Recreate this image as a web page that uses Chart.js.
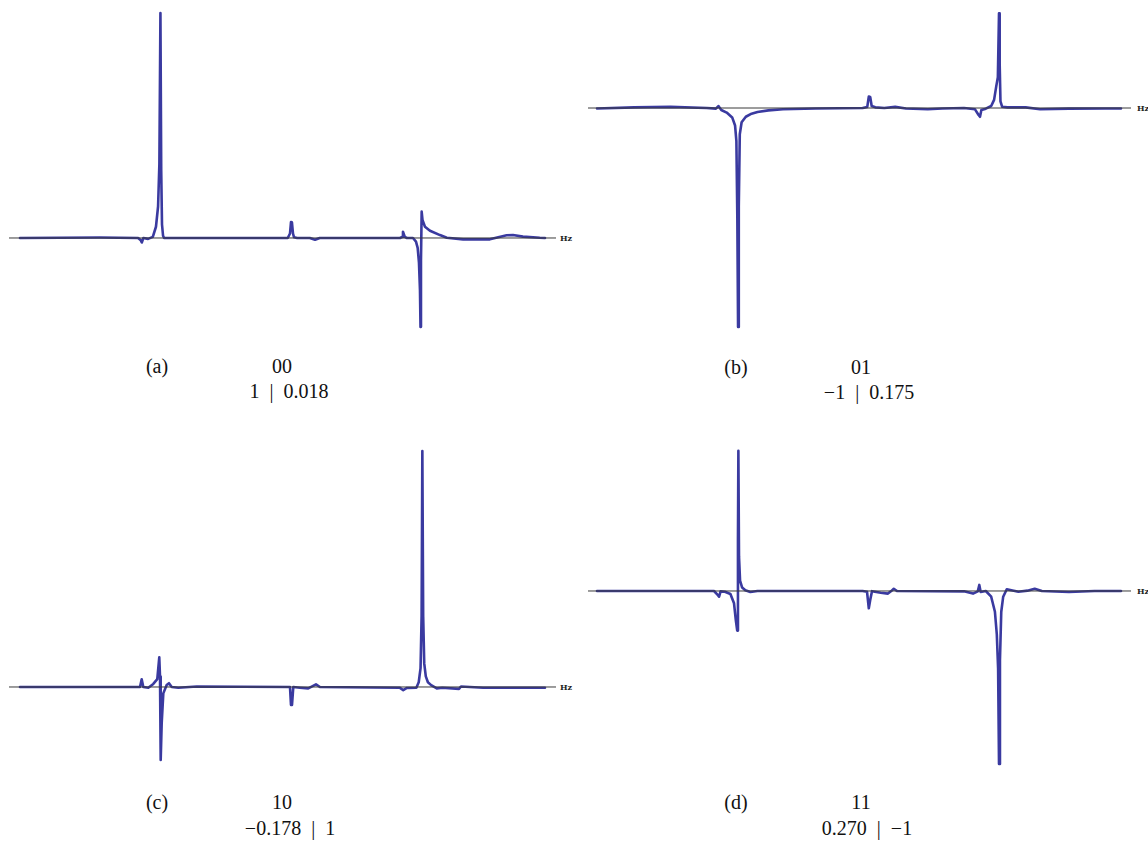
<!DOCTYPE html>
<html>
<head>
<meta charset="utf-8">
<script src="https://cdn.jsdelivr.net/npm/chart.js@4.4.1/dist/chart.umd.min.js"></script>
<style>
  html, body { margin: 0; padding: 0; background: #ffffff; }
  body { width: 1148px; height: 842px; position: relative; overflow: hidden; }
  canvas.panel { position: absolute; }
  .cap { position: absolute; font-family: 'Liberation Serif', 'Times New Roman', serif; font-size: 20px; line-height: 20px; color: #111; white-space: nowrap; transform: translate(-50%, -50%); }
  .hz { position: absolute; font-family: 'DejaVu Serif'; font-size: 8px; line-height: 9px; font-weight: bold; color: #222; transform: translate(0, -50%); }
</style>
</head>
<body>
<canvas id="ca" class="panel" width="547" height="320" style="left:9px;top:10px"></canvas>
<canvas id="cb" class="panel" width="543" height="320" style="left:588px;top:10px"></canvas>
<canvas id="cc" class="panel" width="547" height="325" style="left:9px;top:445px"></canvas>
<canvas id="cd" class="panel" width="543" height="325" style="left:588px;top:445px"></canvas>

<div class="hz" style="left:560px;top:238px">Hz</div>
<div class="hz" style="left:1137px;top:108px">Hz</div>
<div class="hz" style="left:560px;top:687px">Hz</div>
<div class="hz" style="left:1137px;top:591px">Hz</div>

<div class="cap" style="left:157px;top:366px">(a)</div>
<div class="cap" style="left:282px;top:366px">00</div>
<div class="cap" style="left:289px;top:391px">1&#8194;|&#8194;0.018</div>

<div class="cap" style="left:736px;top:367px">(b)</div>
<div class="cap" style="left:861px;top:367px">01</div>
<div class="cap" style="left:869px;top:392px">&#8722;1&#8194;|&#8194;0.175</div>

<div class="cap" style="left:157px;top:802px">(c)</div>
<div class="cap" style="left:282px;top:802px">10</div>
<div class="cap" style="left:290px;top:828px">&#8722;0.178&#8194;|&#8194;1</div>

<div class="cap" style="left:736px;top:802px">(d)</div>
<div class="cap" style="left:861px;top:802px">11</div>
<div class="cap" style="left:867px;top:828px">0.270&#8194;|&#8194;&#8722;1</div>

<script>
// ---- Panel (a) "00" ----
const A_X = [0, 15.2, 22.5, 23.0, 23.2, 23.5, 24.4, 25.3, 25.9, 26.3, 26.55, 26.75, 26.9, 27.05, 27.25, 27.45,
  51.0, 51.43, 51.62, 51.8, 52.0, 52.2, 52.8, 55.2, 56.2, 57.1, 72.4, 72.8, 72.95, 73.3, 73.7,
  74.86, 75.43, 75.75, 76.0, 76.19, 76.29, 76.38, 76.51, 76.67, 77.14, 78.1, 80.0, 81.3, 84.4, 89.5, 92.7, 93.9, 95.8, 99.0, 100];
const A_Y = [0, 0.002, 0, -0.01, -0.02, 0, -0.004, 0.005, 0.05, 0.14, 0.33, 1.0, 0.3, 0.06, 0.01, 0,
  0, 0.02, 0.071, 0.07, 0.02, 0.003, 0, 0, -0.008, 0, 0, 0.005, 0.028, 0.005, 0,
  0, -0.016, -0.044, -0.111, -0.231, -0.395, -0.1, 0.117, 0.08, 0.05, 0.032, 0.013, 0.001, -0.006, -0.006, 0.012, 0.013, 0.006, 0.001, 0];

// ---- Panel (b) "01" ----
const B_X = [0, 7.06, 14.05, 20.95, 22.69, 23.17, 23.72, 24.75, 25.8, 26.35, 26.6, 26.78, 26.92, 27.06, 27.25, 27.6, 28.4, 29.5, 30.63, 32.71, 35.48, 41.7,
  50.69, 51.58, 51.87, 52.14, 52.42, 53.11, 54.83, 56.91, 58.97, 63.13, 65.9, 70.04, 72.14, 72.82, 73.09, 73.36, 74.2,
  75.23, 75.78, 76.2, 76.5, 76.72, 76.85, 77.0, 77.31, 78.34, 81.81, 84.56, 90.08, 97.02, 100];
const B_Y = [-0.002, 0.003, 0.005, 0, -0.003, 0.009, -0.009, -0.021, -0.043, -0.08, -0.15, -0.5, -1.0, -0.45, -0.12, -0.065, -0.04, -0.026, -0.018, -0.011, -0.006, -0.002,
  0, 0.005, 0.052, 0.05, 0.009, 0.003, 0, 0.005, -0.002, -0.006, -0.002, 0, -0.006, -0.032, -0.04, -0.009, -0.003,
  0.009, 0.037, 0.1, 0.14, 0.432, 0.2, 0.03, 0.006, 0.003, 0.003, -0.006, -0.003, -0.002, -0.002];

// ---- Panel (c) "10" ----
const C_X = [0, 22.86, 23.18, 23.49, 24.44, 25.39, 26.15, 26.53, 26.67, 26.8, 26.99, 27.3, 27.94, 28.38, 28.9, 30.15, 33.66,
  51.43, 51.62, 51.81, 52.06, 53.33, 54.91, 56.38, 57.14, 72.3, 73.0, 73.71, 75.5, 75.95, 76.3, 76.5, 76.64, 76.8,
  77.0, 77.3, 77.7, 78.32, 79.39, 80.46, 83.62, 84.0, 88.25, 100];
const C_Y = [0, 0, 0.033, 0, -0.003, 0.013, 0.033, 0.126, 0.044, -0.309, -0.154, -0.027, 0.008, 0.016, 0, -0.003, 0.002,
  0, -0.076, -0.076, 0, -0.003, -0.006, 0.011, 0, -0.003, -0.013, -0.004, -0.003, 0.02, 0.08, 0.3, 1.0, 0.3,
  0.1, 0.045, 0.02, 0.008, -0.006, -0.003, -0.008, 0.002, -0.003, -0.003];

// ---- Panel (d) "11" ----
const D_X = [0, 22.33, 23.03, 23.3, 23.59, 24.41, 25.46, 26.15, 26.49, 26.76, 26.9, 26.98, 27.1, 27.3, 27.7, 28.3, 29.26, 30.63,
  50.69, 51.53, 51.87, 52.14, 52.48, 54.14, 55.53, 56.09, 56.64, 57.25, 70.04, 71.76, 72.67, 72.96, 73.22, 74.2,
  75.23, 75.94, 76.3, 76.55, 76.72, 76.9, 77.15, 77.52, 78.2, 80.42, 82.16, 83.53, 84.9, 90.08, 94.94, 100];
const D_Y = [0, 0, -0.023, -0.033, -0.002, -0.004, -0.017, -0.071, -0.168, -0.229, 0.3, 0.811, 0.2, 0.06, 0.02, 0.004, -0.006, 0,
  0, -0.004, -0.1, -0.052, -0.001, -0.01, -0.015, -0.002, 0.013, 0,  -0.002, -0.015, -0.002, 0.035, -0.006, 0,
  -0.033, -0.12, -0.25, -0.45, -1.0, -0.4, -0.12, -0.033, 0.01, -0.004, 0.002, 0.013, 0, -0.006, 0, 0];

// Frequency-axis extents (the drawn horizontal axis line) and value ranges per panel
const AXIS_LEFT = [-2.095, 102.1];
const AXIS_RIGHT = [-1.718, 101.91];
const AXIS_Y = [0, 0];
const RANGE_A = [-0.4089, 1.0133];
const RANGE_B = [-1.0137, 0.4475];
const RANGE_C = [-0.3517, 1.0254];
const RANGE_D = [-1.0347, 0.8439];

const LINE_COLOR = '#3a3aa0';
const AXIS_COLOR = '#3a3a3a';

function pts(xs, ys) { return xs.map((x, i) => ({ x: x, y: ys[i] })); }

function makePanel(id, xs, ys, axisX, yr) {
  new Chart(document.getElementById(id), {
    type: 'line',
    data: {
      datasets: [
        { data: pts(axisX, AXIS_Y), borderColor: AXIS_COLOR, borderWidth: 1, pointRadius: 0, tension: 0, fill: false },
        { data: pts(xs, ys), borderColor: LINE_COLOR, borderWidth: 2.6, borderJoinStyle: 'round', borderCapStyle: 'round', pointRadius: 0, tension: 0, fill: false }
      ]
    },
    options: {
      responsive: false,
      animation: false,
      devicePixelRatio: 1,
      layout: { padding: 0 },
      plugins: { legend: { display: false }, tooltip: { enabled: false }, title: { display: false } },
      scales: {
        x: { type: 'linear', min: axisX[0], max: axisX[1], display: false },
        y: { type: 'linear', min: yr[0], max: yr[1], display: false }
      }
    }
  });
}

makePanel('ca', A_X, A_Y, AXIS_LEFT, RANGE_A);
makePanel('cb', B_X, B_Y, AXIS_RIGHT, RANGE_B);
makePanel('cc', C_X, C_Y, AXIS_LEFT, RANGE_C);
makePanel('cd', D_X, D_Y, AXIS_RIGHT, RANGE_D);
</script>
</body>
</html>
